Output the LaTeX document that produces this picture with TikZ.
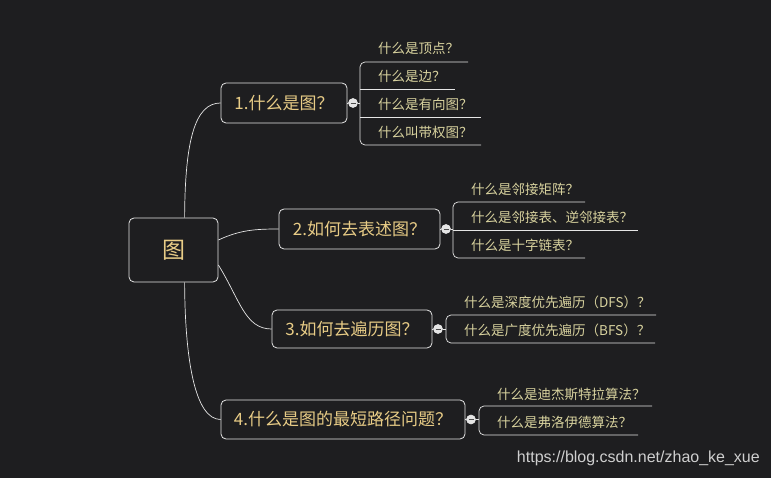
\documentclass[tikz,border=0pt]{standalone}
\usepackage{fontspec}
\newfontfamily\cjk{Noto Sans CJK SC}
\definecolor{bg}{HTML}{1E1E20}
\definecolor{leaftxt}{HTML}{D8D29E}
\definecolor{maintxt}{HTML}{E8CC86}
\definecolor{ln}{HTML}{E6E6E6}
\begin{document}
\begin{tikzpicture}[x=1pt,y=-1pt,
  box/.style={draw=ln,line width=0.8pt,rounded corners=5pt,text=maintxt,font=\cjk\fontsize{17}{19}\selectfont,inner sep=0pt},
  leaf/.style={text=leaftxt,font=\cjk\fontsize{13.5}{15}\selectfont,anchor=west,inner sep=0pt},
  wire/.style={draw=ln,line width=0.7pt},
  knob/.style={circle,draw=ln,fill=white!80!gray,inner sep=0pt,minimum size=9pt,line width=0.6pt,
    path picture={\draw[gray!60!black,line width=0.8pt] ([xshift=-2.5pt]path picture bounding box.center) -- ([xshift=2.5pt]path picture bounding box.center);}}]
\fill[bg] (0,0) rectangle (771,478);
\useasboundingbox (0,0) rectangle (771,478);
% root
\node[box,minimum width=89pt,minimum height=64pt,font=\cjk\fontsize{23}{25}\selectfont] (r) at (173.5,250) {图};
\node[box,minimum width=126pt,minimum height=40pt] (b1) at (284,103) {1.什么是图？};
\node[box,minimum width=161pt,minimum height=40pt] (b2) at (359.5,229) {2.如何去表述图？};
\node[box,minimum width=160pt,minimum height=38pt] (b3) at (352,329) {3.如何去遍历图？};
\node[box,minimum width=244pt,minimum height=39pt] (b4) at (343,419.5) {4.什么是图的最短路径问题？};
% connectors
\draw[wire] (r.north west)++(56,0) .. controls (185,140) and (195,103) .. (b1.west);
\draw[wire] (r.east)++(0,-10) .. controls (240,230) and (255,229) .. (b2.west);
\draw[wire] (r.east)++(0,15) .. controls (240,300) and (245,329) .. (b3.west);
\draw[wire] (r.south west)++(56,0) .. controls (185,360) and (195,419.5) .. (b4.west);
% knobs
\node[knob] (k1) at (353,103) {};
\node[knob] (k2) at (446,229) {};
\node[knob] (k3) at (438,329) {};
\node[knob] (k4) at (471,419.5) {};
\draw[wire] (b1.east) -- (k1.west);
\draw[wire] (b2.east) -- (k2.west);
\draw[wire] (b3.east) -- (k3.west);
\draw[wire] (b4.east) -- (k4.west);
% branch 1
\node[leaf] (l11) at (378,48) {什么是顶点？};
\node[leaf] (l12) at (378,76) {什么是边？};
\node[leaf] (l13) at (378,104) {什么是有向图？};
\node[leaf] (l14) at (378,132) {什么叫带权图？};
\draw[wire,rounded corners=5pt] (468,62) -- (360,62) -- (360,145) -- (481,145);
\draw[wire] (360,89) -- (455,89);
\draw[wire] (360,117) -- (481,117);
\draw[wire] (k1.east) -- (360,103);
% branch 2
\node[leaf] (l21) at (471,189) {什么是邻接矩阵？};
\node[leaf] (l22) at (471,217) {什么是邻接表、逆邻接表？};
\node[leaf] (l23) at (471,245) {什么是十字链表？};
\draw[wire,rounded corners=5pt] (585,202) -- (453,202) -- (453,258) -- (585,258);
\draw[wire] (453,230) -- (638,230);
\draw[wire] (k2.east) -- (453,229);
% branch 3
\node[leaf] (l31) at (464,302) {什么是深度优先遍历（DFS）？};
\node[leaf] (l32) at (464,330) {什么是广度优先遍历（BFS）？};
\draw[wire,rounded corners=5pt] (656,315) -- (446,315) -- (446,343) -- (655,343);
\draw[wire] (k3.east) -- (446,329);
% branch 4
\node[leaf] (l41) at (497,394) {什么是迪杰斯特拉算法？};
\node[leaf] (l42) at (497,422) {什么是弗洛伊德算法？};
\draw[wire,rounded corners=5pt] (652,406) -- (479,406) -- (479,435) -- (638,435);
\draw[wire] (k4.east) -- (479,419.5);
% watermark
\node[anchor=east,text=white!62!gray,font=\fontspec{Liberation Sans}\fontsize{16}{18}\selectfont,inner sep=0pt] (wm) at (760,458) {https://blog.csdn.net/zhao\_ke\_xue};
\end{tikzpicture}
\end{document}
